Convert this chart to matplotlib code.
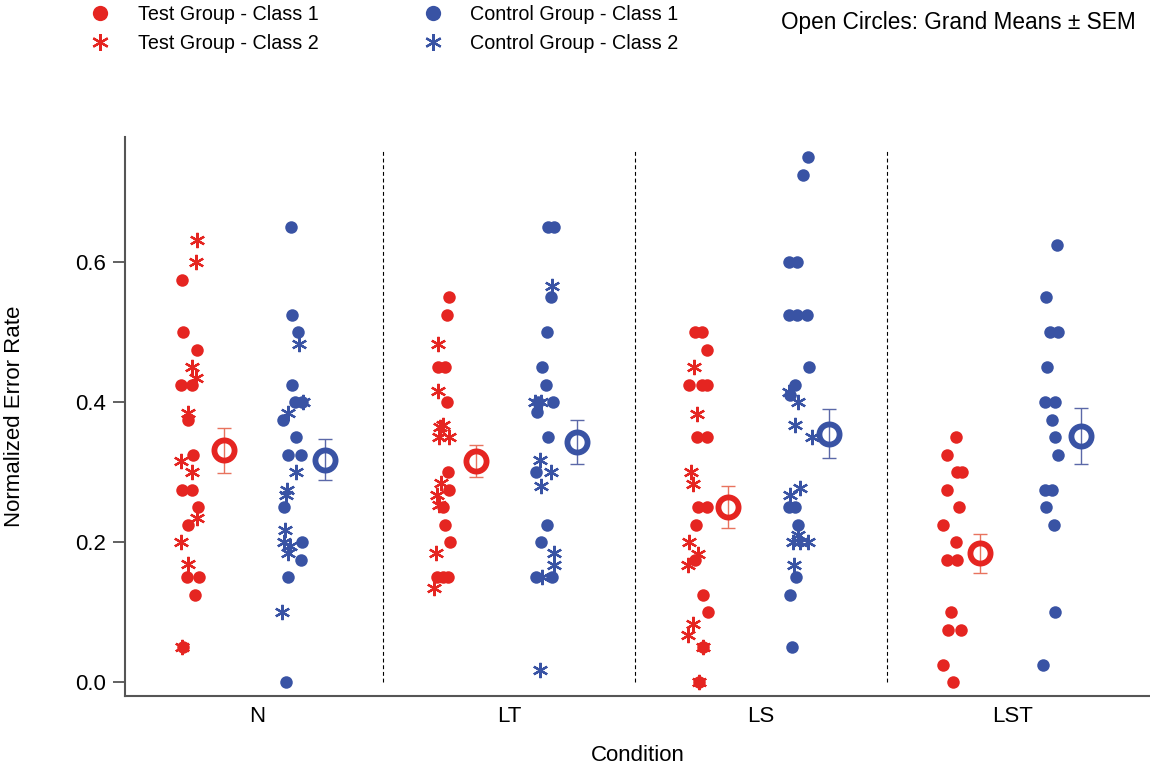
import matplotlib
matplotlib.use("Agg")
import matplotlib.pyplot as plt
from matplotlib.lines import Line2D

plt.rcParams['font.family'] = ['Liberation Sans', 'DejaVu Sans']

conditions = ["N", "LT", "LS", "LST"]

# values, one list per condition
test_c1 = [
    [0.575, 0.5, 0.475, 0.425, 0.425, 0.375, 0.325, 0.275, 0.275, 0.25, 0.225, 0.15, 0.15, 0.125, 0.05],
    [0.55, 0.525, 0.45, 0.45, 0.4, 0.3, 0.275, 0.25, 0.225, 0.2, 0.15, 0.15, 0.15],
    [0.5, 0.5, 0.475, 0.425, 0.425, 0.425, 0.35, 0.35, 0.25, 0.25, 0.225, 0.175, 0.125, 0.1, 0.05, 0.0],
    [0.35, 0.325, 0.3, 0.3, 0.275, 0.25, 0.225, 0.2, 0.175, 0.175, 0.1, 0.075, 0.075, 0.025, 0.0],
]
test_c2 = [
    [0.632, 0.6, 0.45, 0.434, 0.385, 0.316, 0.3, 0.234, 0.2, 0.168, 0.05],
    [0.483, 0.416, 0.367, 0.364, 0.35, 0.35, 0.284, 0.267, 0.253, 0.184, 0.134],
    [0.45, 0.383, 0.3, 0.283, 0.2, 0.183, 0.167, 0.083, 0.067, 0.05, 0.0],
    [],
]
ctrl_c1 = [
    [0.65, 0.525, 0.5, 0.425, 0.4, 0.4, 0.375, 0.35, 0.325, 0.325, 0.25, 0.2, 0.175, 0.15, 0.0],
    [0.65, 0.65, 0.55, 0.5, 0.45, 0.425, 0.4, 0.4, 0.386, 0.35, 0.3, 0.225, 0.2, 0.15, 0.15],
    [0.75, 0.725, 0.6, 0.6, 0.525, 0.525, 0.525, 0.45, 0.425, 0.41, 0.25, 0.25, 0.225, 0.15, 0.125, 0.05],
    [0.625, 0.55, 0.5, 0.5, 0.45, 0.4, 0.4, 0.375, 0.35, 0.325, 0.275, 0.275, 0.25, 0.225, 0.1, 0.025],
]
ctrl_c2 = [
    [0.483, 0.4, 0.384, 0.3, 0.275, 0.267, 0.217, 0.2, 0.195, 0.184, 0.1],
    [0.566, 0.4, 0.4, 0.317, 0.3, 0.28, 0.185, 0.167, 0.15, 0.017],
    [0.415, 0.4, 0.367, 0.35, 0.277, 0.267, 0.21, 0.2, 0.2, 0.2, 0.167],
    [],
]

# horizontal jitter of each point (category units)
test_c1_dx = [
    [-0.298, -0.294, -0.238, -0.302, -0.258, -0.274, -0.254, -0.298, -0.258, -0.234, -0.274, -0.278, -0.230, -0.246, -0.294],
    [-0.238, -0.246, -0.282, -0.254, -0.246, -0.242, -0.238, -0.262, -0.254, -0.234, -0.286, -0.262, -0.242],
    [-0.262, -0.235, -0.215, -0.284, -0.235, -0.213, -0.255, -0.215, -0.249, -0.213, -0.258, -0.262, -0.229, -0.209, -0.229, -0.245],
    [-0.226, -0.262, -0.222, -0.202, -0.262, -0.214, -0.278, -0.226, -0.262, -0.222, -0.246, -0.258, -0.206, -0.278, -0.238],
]
test_c2_dx = [
    [-0.238, -0.242, -0.258, -0.242, -0.274, -0.302, -0.258, -0.238, -0.302, -0.274, -0.298],
    [-0.282, -0.282, -0.262, -0.274, -0.278, -0.238, -0.270, -0.286, -0.278, -0.290, -0.298],
    [-0.266, -0.255, -0.279, -0.271, -0.284, -0.249, -0.288, -0.269, -0.288, -0.229, -0.245],
    [],
]
ctrl_c1_dx = [
    [0.135, 0.139, 0.163, 0.139, 0.151, 0.179, 0.103, 0.155, 0.123, 0.175, 0.107, 0.179, 0.175, 0.123, 0.115],
    [0.155, 0.179, 0.167, 0.151, 0.131, 0.147, 0.175, 0.115, 0.111, 0.155, 0.107, 0.151, 0.127, 0.107, 0.171],
    [0.185, 0.165, 0.112, 0.142, 0.112, 0.142, 0.181, 0.192, 0.135, 0.115, 0.112, 0.135, 0.148, 0.139, 0.115, 0.125],
    [0.175, 0.131, 0.147, 0.179, 0.135, 0.127, 0.167, 0.155, 0.167, 0.179, 0.127, 0.155, 0.131, 0.163, 0.167, 0.119],
]
ctrl_c2_dx = [
    [0.167, 0.183, 0.123, 0.155, 0.119, 0.115, 0.111, 0.107, 0.131, 0.123, 0.099],
    [0.171, 0.103, 0.127, 0.123, 0.167, 0.127, 0.179, 0.179, 0.131, 0.123],
    [0.112, 0.146, 0.135, 0.204, 0.155, 0.115, 0.148, 0.128, 0.155, 0.188, 0.131],
    [],
]

# grand means and SEM
test_mean = [0.331, 0.316, 0.250, 0.184]
test_sem = [0.032, 0.023, 0.030, 0.028]
ctrl_mean = [0.318, 0.343, 0.355, 0.351]
ctrl_sem = [0.029, 0.031, 0.035, 0.040]

red = '#e52521'
blue = '#3953a4'
red_err = '#e8735e'
blue_err = '#5b68a8'
star = (6, 2, 0)

fig = plt.figure(figsize=(11.5, 7.66), dpi=100)
ax = fig.add_axes([125 / 1150, 70 / 766, 1025 / 1150, 559 / 766])

for i in range(len(conditions)):
    ax.plot([i + d for d in test_c1_dx[i]], test_c1[i], 'o', color=red, ms=9, mew=0, zorder=3)
    ax.plot([i + d for d in test_c2_dx[i]], test_c2[i], ls='none', marker=star, color=red, ms=11, mew=1.6, zorder=4)
    ax.plot([i + d for d in ctrl_c1_dx[i]], ctrl_c1[i], 'o', color=blue, ms=9, mew=0, zorder=3)
    ax.plot([i + d for d in ctrl_c2_dx[i]], ctrl_c2[i], ls='none', marker=star, color=blue, ms=11, mew=1.6, zorder=4)

    ax.errorbar(i - 0.13, test_mean[i], yerr=test_sem[i], fmt='none', ecolor=red_err,
                elinewidth=1, capsize=4.7, capthick=1, zorder=5)
    ax.plot(i - 0.13, test_mean[i], 'o', mfc='none', mec=red, ms=14.5, mew=4.2, zorder=6)
    ax.errorbar(i + 0.27, ctrl_mean[i], yerr=ctrl_sem[i], fmt='none', ecolor=blue_err,
                elinewidth=1, capsize=4.7, capthick=1, zorder=5)
    ax.plot(i + 0.27, ctrl_mean[i], 'o', mfc='none', mec=blue, ms=14.5, mew=4.2, zorder=6)

ax.vlines([0.5, 1.5, 2.5], 0.0, 0.76, colors='black', linestyles=(0, (3.5, 2.5)), lw=0.8)

ax.set_xlim(-0.524, 3.544)
ax.set_ylim(-0.02, 0.779)
ax.set_xticks(range(len(conditions)))
ax.set_xticklabels(conditions)
ax.set_yticks([0.0, 0.2, 0.4, 0.6])
ax.set_yticklabels(["0.0", "0.2", "0.4", "0.6"])
ax.tick_params(axis='x', length=0, pad=7, labelsize=16)
ax.tick_params(axis='y', length=9, width=1.3, color='#555555', pad=5, labelsize=16)

for s in ['top', 'right']:
    ax.spines[s].set_visible(False)
for s in ['left', 'bottom']:
    ax.spines[s].set_color('#555555')
    ax.spines[s].set_linewidth(1.5)

ax.set_xlabel("Condition", fontsize=16)
ax.set_ylabel("Normalized Error Rate", fontsize=16)
ax.xaxis.set_label_coords(0.5, -0.087)
ax.yaxis.set_label_coords(-0.098, 0.5)

handles = [
    Line2D([], [], ls='none', marker='o', color=red, ms=11, mew=0),
    Line2D([], [], ls='none', marker=star, color=red, ms=12, mew=1.6),
    Line2D([], [], ls='none', marker='o', color=blue, ms=11, mew=0),
    Line2D([], [], ls='none', marker=star, color=blue, ms=12, mew=1.6),
]
labels = ["Test Group - Class 1", "Test Group - Class 2",
          "Control Group - Class 1", "Control Group - Class 2"]
fig.legend(handles, labels, ncol=2, loc='upper left', bbox_to_anchor=(80.6 / 1150, 0.993),
           frameon=False, fontsize=14.2, handlelength=2.0, handletextpad=0.9,
           columnspacing=4.8, labelspacing=0.48, borderpad=0, borderaxespad=0)
fig.text(781 / 1150, 1 - 23 / 766, "Open Circles: Grand Means \u00b1 SEM", fontsize=16.3, va='center', ha='left')

fig.savefig("out.png", dpi=100)
